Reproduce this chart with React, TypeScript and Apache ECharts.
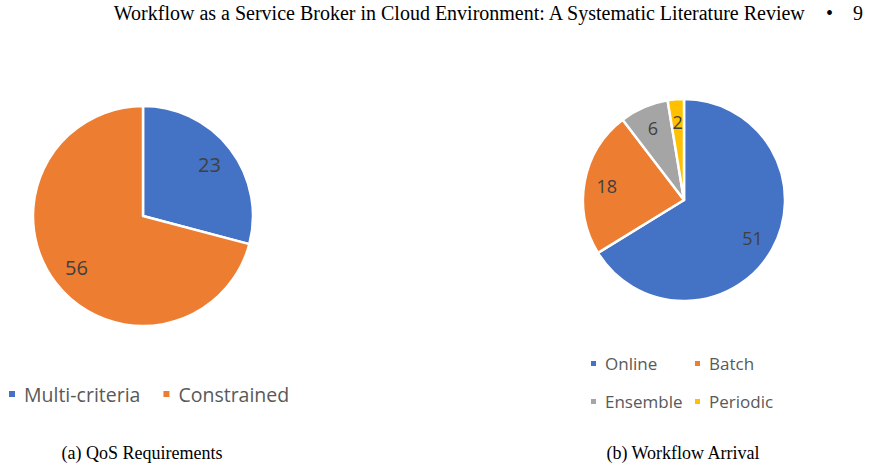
import React, { useEffect, useRef } from "react";
import * as echarts from "echarts";

const qosNames = ["Multi-criteria", "Constrained"];
const qosValues = [23, 56];
const arrivalNames = ["Online", "Batch", "Ensemble", "Periodic"];
const arrivalValues = [51, 18, 6, 2];
const colors = ["#4472C4", "#ED7D31", "#A5A5A5", "#FFC000"];
const headerText = "Workflow as a Service Broker in Cloud Environment: A Systematic Literature Review";
const pageNumber = "9";
const captionA = "(a) QoS Requirements";
const captionB = "(b) Workflow Arrival";

export default function App() {
  const ref = useRef<HTMLDivElement>(null);
  useEffect(() => {
    if (!ref.current) return;
    const chart = echarts.init(ref.current, null, { renderer: "svg" });
    const qosData = qosNames.map((n, i) => ({ name: n, value: qosValues[i], itemStyle: { color: colors[i] } }));
    const arrData = arrivalNames.map((n, i) => ({ name: n, value: arrivalValues[i], itemStyle: { color: colors[i] } }));
    const labelStyle = (size: number) => ({
      show: true,
      position: "inside",
      formatter: "{c}",
      color: "#404040",
      fontSize: size,
      fontFamily: "Open Sans",
    });
    const legendBase = (size: number, mk: number, gap: number) => ({
      orient: "horizontal",
      icon: "rect",
      itemWidth: mk,
      itemHeight: mk,
      itemGap: gap,
      textStyle: { color: "#595959", fontSize: size, fontFamily: "Open Sans", padding: [0, 0, 0, 3] },
      selectedMode: false,
      padding: 0,
    });
    chart.setOption({
      animation: false,
      backgroundColor: "#ffffff",
      legend: [
        { ...legendBase(19.5, 8, 21), data: qosNames, left: 7, top: 384 },
        { ...legendBase(17, 7, 27), data: ["Online"], left: 589, top: 355 },
        { ...legendBase(17, 7, 27), data: ["Batch"], left: 693, top: 355 },
        { ...legendBase(17, 7, 27), data: ["Ensemble"], left: 589, top: 393 },
        { ...legendBase(17, 7, 27), data: ["Periodic"], left: 693, top: 393 },
      ],
      series: [
        {
          type: "pie",
          center: [143, 216],
          radius: [0, 110],
          startAngle: 90,
          clockwise: true,
          data: qosData,
          label: { show: false },
          labelLine: { show: false },
          itemStyle: { borderColor: "#ffffff", borderWidth: 2.5 },
          emphasis: { disabled: true },
          silent: true,
        },
        {
          type: "pie",
          center: [143, 216],
          radius: [52, 110],
          startAngle: 90,
          data: qosData.map((d) => ({ ...d, itemStyle: { color: "rgba(0,0,0,0)" } })),
          label: labelStyle(20),
          labelLine: { show: false },
          itemStyle: { borderWidth: 0 },
          emphasis: { disabled: true },
          silent: true,
          legendHoverLink: false,
        },
        {
          type: "pie",
          center: [684, 200],
          radius: [0, 101],
          startAngle: 90,
          data: arrData,
          label: { show: false },
          labelLine: { show: false },
          itemStyle: { borderColor: "#ffffff", borderWidth: 2.5 },
          emphasis: { disabled: true },
          silent: true,
        },
        {
          type: "pie",
          center: [684, 200],
          radius: [50, 101],
          startAngle: 90,
          data: arrData.map((d) => ({ ...d, itemStyle: { color: "rgba(0,0,0,0)" } })),
          label: labelStyle(18),
          labelLine: { show: false },
          itemStyle: { borderWidth: 0 },
          emphasis: { disabled: true },
          silent: true,
          legendHoverLink: false,
        },
      ],
      graphic: [
        {
          type: "text",
          right: 62,
          top: 3,
          style: { text: headerText, fontSize: 20, fontFamily: "Liberation Serif", fill: "#000" },
        },
        {
          type: "text",
          left: 826,
          top: 3,
          style: { text: "•", fontSize: 20, fontFamily: "Liberation Serif", fill: "#000" },
        },
        {
          type: "text",
          left: 853,
          top: 3,
          style: { text: pageNumber, fontSize: 20, fontFamily: "Liberation Serif", fill: "#000" },
        },
        {
          type: "text",
          x: 142,
          y: 453,
          style: { text: captionA, fontSize: 18, fontFamily: "Liberation Serif", fill: "#000", align: "center", verticalAlign: "middle" },
        },
        {
          type: "text",
          x: 683,
          y: 453,
          style: { text: captionB, fontSize: 18, fontFamily: "Liberation Serif", fill: "#000", align: "center", verticalAlign: "middle" },
        },
      ],
    });
    return () => chart.dispose();
  }, []);
  return <div ref={ref} style={{ position: "fixed", left: 0, top: 0, width: 869, height: 469 }} />;
}
